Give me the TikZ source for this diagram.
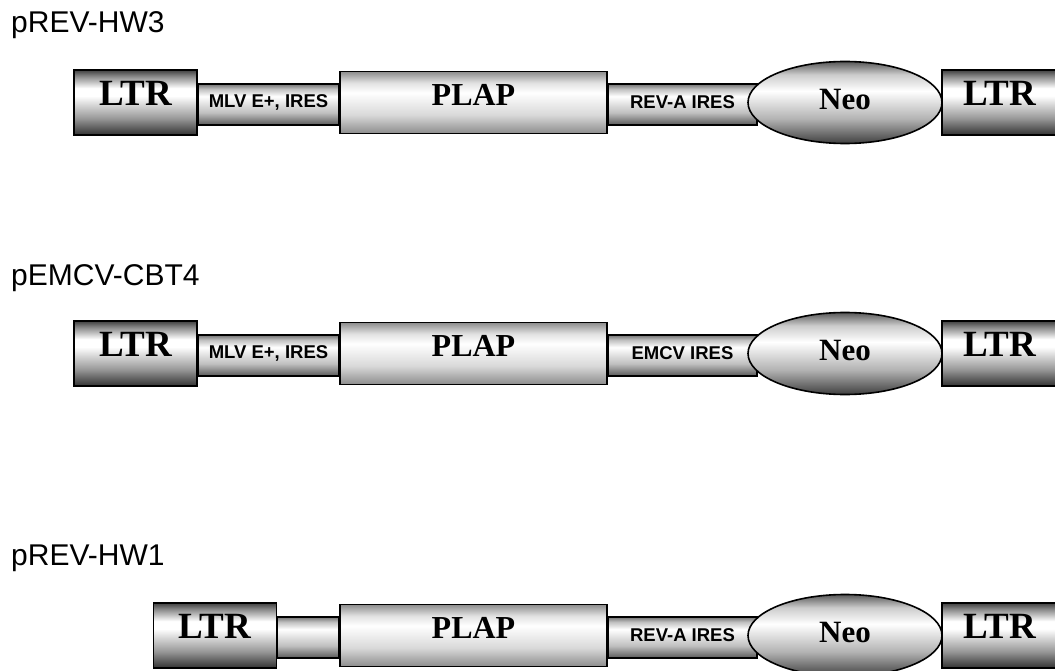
\documentclass[tikz,border=0pt]{standalone}
\usepackage{fontspec}
\setmainfont{Liberation Serif}
\setsansfont{Liberation Sans}
\usetikzlibrary{calc,shapes.geometric,backgrounds}
\pgfdeclareverticalshading{ltrshade}{100bp}{color(0bp)=(black!80); color(25bp)=(black!80); color(38bp)=(black!40); color(55bp)=(white); color(61bp)=(white); color(70bp)=(black!45); color(75bp)=(black!75); color(100bp)=(black!75)}
\pgfdeclareverticalshading{geneshade}{100bp}{color(0bp)=(black!45); color(25bp)=(black!45); color(40bp)=(black!15); color(58bp)=(white); color(66bp)=(black!12); color(75bp)=(black!45); color(100bp)=(black!45)}
\pgfdeclareverticalshading{linkshade}{100bp}{color(0bp)=(black!65); color(25bp)=(black!65); color(40bp)=(black!25); color(60bp)=(white); color(69bp)=(black!25); color(75bp)=(black!55); color(100bp)=(black!55)}
\pgfdeclareverticalshading{neoshade}{100bp}{color(0bp)=(black!75); color(25bp)=(black!75); color(40bp)=(black!30); color(57bp)=(white); color(67bp)=(black!20); color(75bp)=(black!65); color(100bp)=(black!65)}
\tikzset{
	ltrbox/.style={draw, line width=1.6pt, shading=ltrshade, minimum width=123pt, minimum height=65pt, inner sep=0pt, text depth=18pt, font=\bfseries\fontsize{37}{37}\selectfont},
	genebox/.style={draw, line width=1.6pt, shading=geneshade, minimum width=267pt, minimum height=62pt, inner sep=0pt, text depth=15pt, font=\bfseries\fontsize{32}{32}\selectfont},
	neo/.style={ellipse, draw, line width=1.6pt, shading=neoshade, minimum width=194pt, minimum height=82pt, inner sep=0pt, text depth=7pt, font=\bfseries\fontsize{31}{31}\selectfont},
	linker/.style={draw, line width=1.6pt, shading=linkshade},
	tag/.style={inner sep=0pt, font=\sffamily\bfseries\fontsize{18.5}{18.5}\selectfont},
	vname/.style={anchor=base west, inner sep=0pt, font=\sffamily\fontsize{30}{30}\selectfont}
}
\begin{document}
\begin{tikzpicture}[x=1pt, y=-1pt]
	\useasboundingbox (0,0) rectangle (1055,671);
	\clip (0,0) rectangle (1055,671);

	% pREV-HW3
	\node [vname] (nameA) at (11,33) {pREV-HW3};
	\node [ltrbox] (ltrA) at (135.5,102.5) {LTR};
	\node [genebox] (plapA) at (473.5,102.5) {PLAP};
	\node [neo] (neoA) at (845,102.5) {Neo};
	\node [ltrbox, minimum width=116pt] (ltrAr) at (1000,102.5) {LTR};
	\begin{scope}[on background layer]
		\draw [linker] ([yshift=18.5pt]ltrA.east) rectangle ([yshift=-22.5pt]plapA.west);
		\draw [linker] ([yshift=18.5pt]plapA.east) rectangle ([xshift=10pt, yshift=-22.5pt]neoA.west);
	\end{scope}
	\node [tag] (mlvA) at ($(ltrA.east)!0.5!(plapA.west)$) {MLV E+, IRES};
	\node [tag] (iresA) at ($(plapA.east)!0.5!([xshift=10pt]neoA.west)$) {REV-A IRES};

	% pEMCV-CBT4
	\node [vname] (nameB) at (11,285) {pEMCV-CBT4};
	\node [ltrbox] (ltrB) at (135.5,353.5) {LTR};
	\node [genebox] (plapB) at (473.5,353.5) {PLAP};
	\node [neo] (neoB) at (845,353.5) {Neo};
	\node [ltrbox, minimum width=116pt] (ltrBr) at (1000,353.5) {LTR};
	\begin{scope}[on background layer]
		\draw [linker] ([yshift=18.5pt]ltrB.east) rectangle ([yshift=-22.5pt]plapB.west);
		\draw [linker] ([yshift=18.5pt]plapB.east) rectangle ([xshift=10pt, yshift=-22.5pt]neoB.west);
	\end{scope}
	\node [tag] (mlvB) at ($(ltrB.east)!0.5!(plapB.west)$) {MLV E+, IRES};
	\node [tag] (iresB) at ($(plapB.east)!0.5!([xshift=10pt]neoB.west)$) {EMCV IRES};

	% pREV-HW1
	\node [vname] (nameC) at (11,565) {pREV-HW1};
	\node [ltrbox] (ltrC) at (215,635.5) {LTR};
	\node [genebox] (plapC) at (473.5,635.5) {PLAP};
	\node [neo] (neoC) at (845,635.5) {Neo};
	\node [ltrbox, minimum width=116pt] (ltrCr) at (1000,635.5) {LTR};
	\begin{scope}[on background layer]
		\draw [linker] ([yshift=18.5pt]ltrC.east) rectangle ([yshift=-22.5pt]plapC.west);
		\draw [linker] ([yshift=18.5pt]plapC.east) rectangle ([xshift=10pt, yshift=-22.5pt]neoC.west);
	\end{scope}
	\node [tag] (iresC) at ($(plapC.east)!0.5!([xshift=10pt]neoC.west)$) {REV-A IRES};
\end{tikzpicture}
\end{document}
